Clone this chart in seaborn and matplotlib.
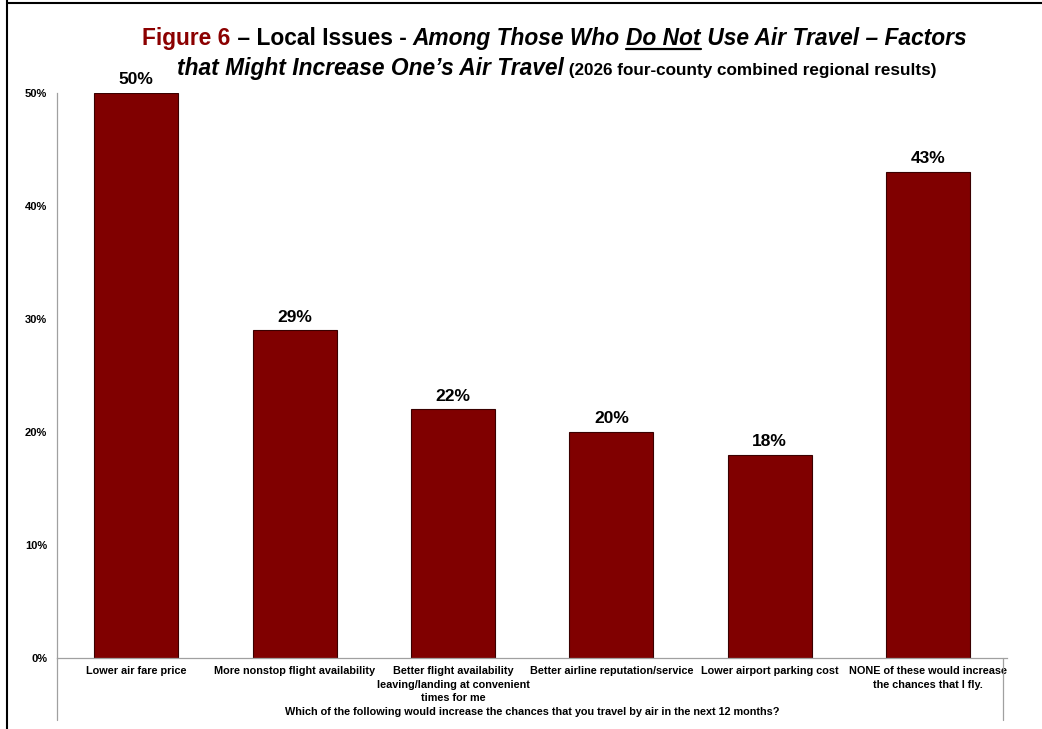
import matplotlib
matplotlib.use("Agg")
import matplotlib.pyplot as plt
import seaborn as sns
import pandas as pd
from matplotlib.lines import Line2D

categories = ["Lower air fare price",
              "More nonstop flight availability",
              "Better flight availability\nleaving/landing at convenient\ntimes for me",
              "Better airline reputation/service",
              "Lower airport parking cost",
              "NONE of these would increase\nthe chances that I fly."]
values = [50, 29, 22, 20, 18, 43]
y_ticks = [0, 10, 20, 30, 40, 50]
y_ticklabels = ["0%", "10%", "20%", "30%", "40%", "50%"]
x_title = "Which of the following would increase the chances that you travel by air in the next 12 months?"

sns.set_style("white")
plt.rcParams['font.family'] = ['Liberation Sans', 'DejaVu Sans']
plt.rcParams['text.color'] = 'black'
plt.rcParams['xtick.color'] = 'black'
plt.rcParams['ytick.color'] = 'black'
plt.rcParams['axes.labelcolor'] = 'black'

df = pd.DataFrame({"factor": categories, "pct": values})

fig = plt.figure(figsize=(10.42, 7.29), dpi=100)
ax = fig.add_axes([0.0547, 0.0974, 0.912, 0.775])
sns.barplot(data=df, x="factor", y="pct", color="#800000", saturation=1,
            width=0.53, edgecolor="#3a0000", linewidth=0.8, ax=ax)

ax.set_ylim(0, 50)
ax.set_xlim(-0.5, 5.5)
ax.set_yticks(y_ticks)
ax.set_yticklabels(y_ticklabels, fontsize=8, fontweight='bold')
ax.tick_params(axis='y', length=0, pad=7)
ax.tick_params(axis='x', length=0, pad=6)
for lab in ax.get_xticklabels():
    lab.set_fontsize(7.8)
    lab.set_fontweight('bold')
    lab.set_linespacing(1.4)
ax.set_xlabel(x_title, fontsize=7.8, fontweight='bold', labelpad=3)
ax.set_ylabel("")
for s in ['top', 'right']:
    ax.spines[s].set_visible(False)
for s in ['left', 'bottom']:
    ax.spines[s].set_color('#a0a0a0')
    ax.spines[s].set_linewidth(0.9)

# bar labels
for i, v in enumerate(values):
    ax.text(i, v + 0.5, "{}%".format(v), ha='center', va='bottom',
            fontsize=12.5, fontweight='bold')

# excel style label box lines under the axis
ax.plot([0, 0], [0, -0.11], transform=ax.transAxes, color='#a0a0a0', lw=0.9, clip_on=False)
ax.plot([0.995, 0.995], [0, -0.11], transform=ax.transAxes, color='#a0a0a0', lw=0.9, clip_on=False)

# frame of the page
fig.add_artist(Line2D([0.007, 0.007], [0, 1], color='black', lw=1.5, transform=fig.transFigure))
fig.add_artist(Line2D([0.007, 1], [0.996, 0.996], color='black', lw=1.5, transform=fig.transFigure))

# title, built from pieces
renderer = fig.canvas.get_renderer()

def rich_line(pieces, y, cx):
    texts = []
    widths = []
    for txt, kw in pieces:
        t = fig.text(0, y, txt, va='baseline', ha='left', **kw)
        bb = t.get_window_extent(renderer=renderer)
        texts.append(t)
        widths.append(bb.width)
    total = sum(widths)
    x = cx * fig.bbox.width - total / 2
    for t, w, (txt, kw) in zip(texts, widths, pieces):
        t.set_x(x / fig.bbox.width)
        if kw.get('gid') == 'ul':
            yy = y - 4.0 / fig.bbox.height
            fig.add_artist(Line2D([x / fig.bbox.width, (x + w) / fig.bbox.width], [yy, yy],
                                  color='black', lw=1.6, transform=fig.transFigure))
        x += w

big = 16.4
line1 = [("Figure 6", dict(fontsize=big, fontweight='bold', color='#8b0000')),
         (" \u2013 Local Issues - ", dict(fontsize=big, fontweight='bold', color='black')),
         ("Among Those Who ", dict(fontsize=big, fontweight='bold', style='italic')),
         ("Do Not", dict(fontsize=big, fontweight='bold', style='italic', gid='ul')),
         (" Use Air Travel \u2013 Factors", dict(fontsize=big, fontweight='bold', style='italic'))]
line2 = [("that Might Increase One\u2019s Air Travel", dict(fontsize=big, fontweight='bold', style='italic')),
         (" (2026 four-county combined regional results)", dict(fontsize=12.3, fontweight='bold'))]
rich_line(line1, 1 - 45 / 729, 0.532)
rich_line(line2, 1 - 75 / 729, 0.534)

plt.savefig("out.png", dpi=100)
